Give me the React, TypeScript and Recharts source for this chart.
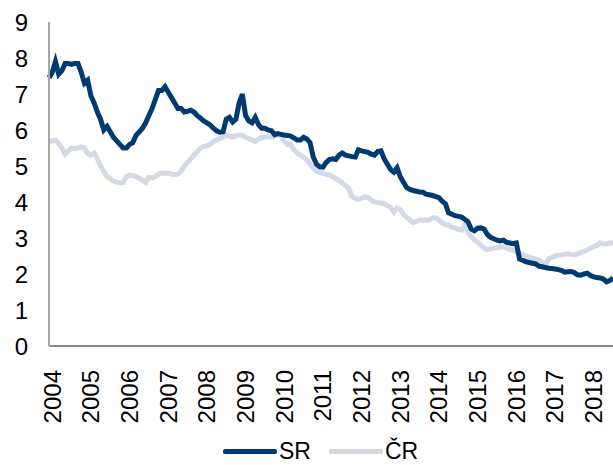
import { LineChart, Line, XAxis, YAxis } from "recharts";

const years = [2004, 2005, 2006, 2007, 2008, 2009, 2010, 2011, 2012, 2013, 2014, 2015, 2016, 2017, 2018];
const yTicks = [0, 1, 2, 3, 4, 5, 6, 7, 8, 9];

// monthly values, Jan 2004 – Aug 2018
const sr = [
  7.45, 7.6, 7.9, 7.55, 7.65, 7.85, 7.85, 7.82, 7.85, 7.85, 7.6, 7.3,
  7.38, 6.95, 6.75, 6.5, 6.3, 6.0, 6.1, 5.95, 5.8, 5.7, 5.6, 5.5,
  5.5, 5.6, 5.65, 5.85, 5.95, 6.05, 6.2, 6.4, 6.6, 6.85, 7.1, 7.1,
  7.2, 7.05, 6.9, 6.75, 6.6, 6.6, 6.5, 6.52, 6.55, 6.5, 6.4, 6.33,
  6.25, 6.2, 6.14, 6.05, 5.98, 5.94, 5.95, 6.3, 6.35, 6.22, 6.3, 6.75,
  7.0, 6.4, 6.25, 6.2, 6.35, 6.15, 6.05, 6.05, 6.0, 5.98, 5.87, 5.9,
  5.88, 5.86, 5.85, 5.83, 5.78, 5.72, 5.72, 5.8, 5.75, 5.65, 5.25, 5.05,
  4.98, 4.97, 5.1, 5.18, 5.2, 5.18, 5.3, 5.36, 5.3, 5.28, 5.26, 5.25,
  5.45, 5.42, 5.4, 5.38, 5.33, 5.3, 5.4, 5.42, 5.2, 5.05, 4.9, 4.83,
  4.95, 4.7, 4.55, 4.4, 4.35, 4.32, 4.3, 4.28, 4.27, 4.22, 4.2, 4.18,
  4.15, 4.12, 4.02, 3.95, 3.7, 3.66, 3.62, 3.6, 3.58, 3.52, 3.45, 3.25,
  3.2, 3.27, 3.28, 3.25, 3.1, 3.02, 2.98, 2.94, 2.92, 2.94, 2.88, 2.86,
  2.84, 2.86, 2.42, 2.38, 2.34, 2.32, 2.3, 2.28, 2.22, 2.2, 2.18, 2.16,
  2.15, 2.14, 2.12, 2.1, 2.05, 2.06, 2.07, 2.04, 1.98, 1.97, 2.0, 2.02,
  1.96, 1.92, 1.9, 1.89, 1.86, 1.78, 1.82, 1.89,
];

const cr = [
  5.67, 5.7, 5.72, 5.62, 5.5, 5.33, 5.42, 5.5, 5.48, 5.5, 5.53, 5.5,
  5.35, 5.3, 5.36, 5.2, 5.0, 4.85, 4.7, 4.65, 4.58, 4.55, 4.53, 4.54,
  4.7, 4.75, 4.74, 4.7, 4.66, 4.6, 4.54, 4.68, 4.67, 4.7, 4.78, 4.8,
  4.8, 4.8, 4.77, 4.76, 4.78, 4.85, 5.0, 5.1, 5.2, 5.3, 5.4, 5.5,
  5.54, 5.56, 5.6, 5.68, 5.72, 5.76, 5.8, 5.86, 5.82, 5.81, 5.84, 5.86,
  5.85, 5.8, 5.76, 5.72, 5.68, 5.75, 5.78, 5.81, 5.81, 5.8, 5.82, 5.86,
  5.84, 5.7, 5.6, 5.6, 5.45, 5.36, 5.3, 5.25, 5.17, 5.05, 4.95, 4.85,
  4.82, 4.8, 4.77, 4.75, 4.7, 4.65, 4.6, 4.53, 4.45, 4.38, 4.15, 4.1,
  4.08, 4.1, 4.14, 4.12, 4.05, 4.0, 3.99, 3.97, 3.96, 3.9, 3.85, 3.72,
  3.83, 3.78, 3.65, 3.58, 3.5, 3.43, 3.46, 3.5, 3.5, 3.5, 3.5, 3.56,
  3.56, 3.5, 3.42, 3.38, 3.35, 3.3, 3.28, 3.24, 3.22, 3.36, 3.15, 3.03,
  2.95, 2.88, 2.8, 2.72, 2.67, 2.7, 2.72, 2.73, 2.75, 2.75, 2.72, 2.68,
  2.66, 2.62, 2.58, 2.54, 2.5, 2.47, 2.44, 2.41, 2.39, 2.32, 2.25, 2.42,
  2.46, 2.5, 2.52, 2.53, 2.55, 2.56, 2.54, 2.53, 2.56, 2.6, 2.62, 2.67,
  2.72, 2.76, 2.8, 2.86, 2.84, 2.83, 2.86, 2.87,
];

const data = sr.map((v, i) => ({ i, sr: v, cr: cr[i] }));
const xTicks = years.map((_, k) => k * 12);

const FONT = "'Liberation Sans', Arial, sans-serif";
const SR_COLOR = "#003a70";
const CR_COLOR = "#d5d9e6";

const YearTick = (props: any) => {
  const { x, y, payload } = props;
  return (
    <g transform={`translate(${x + 3},${y + 16})`}>
      <text
        x={0}
        y={0}
        dy="0.36em"
        transform="rotate(-90)"
        textAnchor="end"
        fill="#000"
        fontSize={24}
        fontFamily={FONT}
      >
        {years[Math.round(payload.value / 12)]}
      </text>
    </g>
  );
};

const LegendItem = ({ color, label }: { color: string; label: string }) => (
  <div style={{ display: "flex", alignItems: "center", marginRight: 18 }}>
    <div style={{ width: 54, height: 5, background: color, borderRadius: 2 }} />
    <span style={{ marginLeft: 2, fontSize: 23, lineHeight: "26px", fontFamily: FONT, color: "#000" }}>{label}</span>
  </div>
);

export default function App() {
  return (
    <div style={{ position: "absolute", left: 0, top: 0, width: 613, height: 465, background: "#fff" }}>
      <LineChart width={613} height={465} data={data} margin={{ top: 22, right: 0, bottom: 0, left: 0 }}>
        <XAxis
          dataKey="i"
          type="number"
          domain={[0, 175]}
          ticks={xTicks}
          interval={0}
          tick={<YearTick />}
          tickLine={false}
          axisLine={{ stroke: "#8c8c8c", strokeWidth: 2 }}
          height={119}
        />
        <YAxis
          domain={[0, 9]}
          ticks={yTicks}
          interval={0}
          width={49}
          tickLine={false}
          tickSize={0}
          tickMargin={21}
          axisLine={{ stroke: "#a6a6a6", strokeWidth: 2 }}
          tick={{ fill: "#000", fontSize: 24, fontFamily: FONT }}
        />
        <Line
          type="linear"
          dataKey="cr"
          stroke={CR_COLOR}
          strokeWidth={5}
          dot={false}
          isAnimationActive={false}
        />
        <Line
          type="linear"
          dataKey="sr"
          stroke={SR_COLOR}
          strokeWidth={5}
          dot={false}
          isAnimationActive={false}
        />
      </LineChart>
      <div
        style={{
          position: "absolute",
          left: 223,
          top: 438,
          height: 26,
          display: "flex",
          alignItems: "center",
        }}
      >
        <LegendItem color={SR_COLOR} label="SR" />
        <LegendItem color={CR_COLOR} label="ČR" />
      </div>
    </div>
  );
}
